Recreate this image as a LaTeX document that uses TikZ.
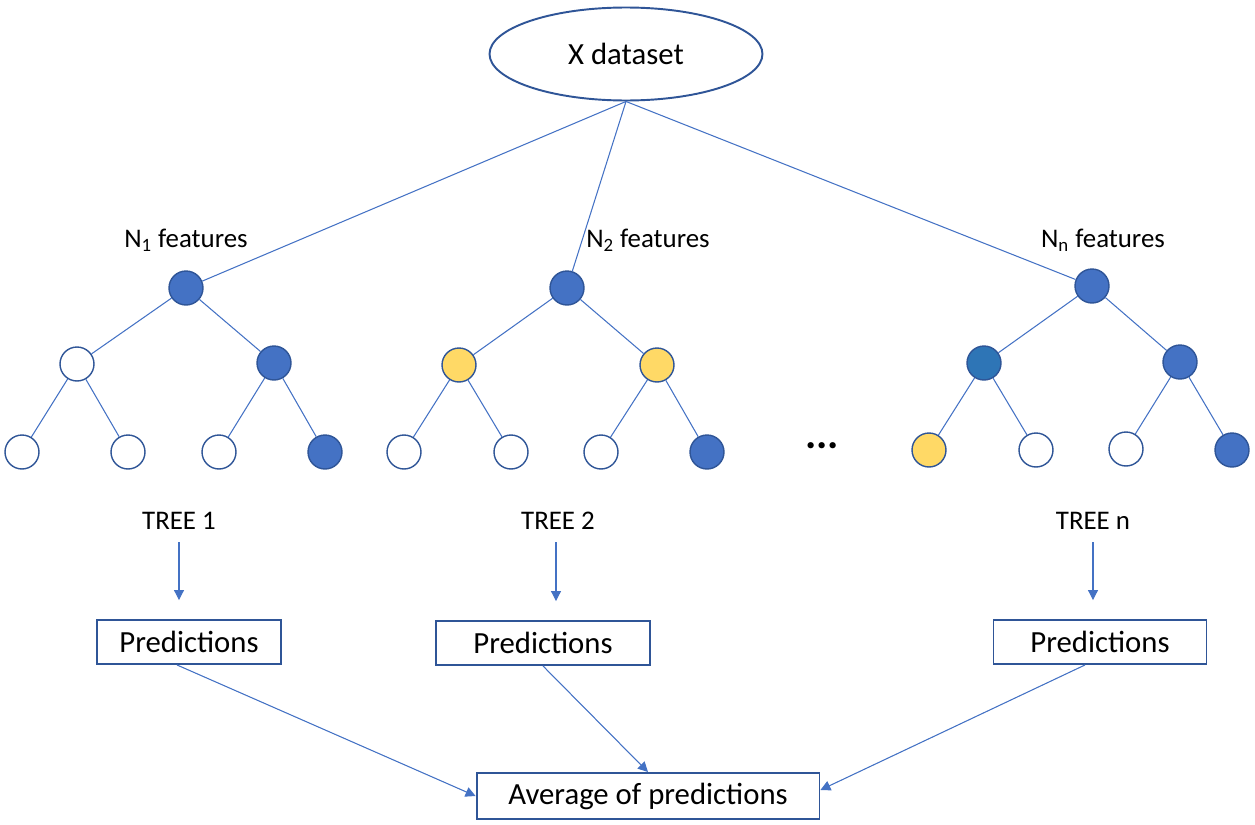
\documentclass[tikz,border=0pt]{standalone}
\usepackage{fontspec}
\setmainfont{Carlito}
\usetikzlibrary{arrows.meta, shapes.geometric}
\definecolor{nodeblue}{HTML}{4472C4}
\definecolor{darkblue}{HTML}{2F5597}
\definecolor{midblue}{HTML}{2E75B6}
\definecolor{nodeyellow}{HTML}{FFD966}

\begin{document}
\begin{tikzpicture}[
x=0.02cm, y=-0.02cm,
link/.style={draw=nodeblue, line width=0.6pt},
arrow/.style={-{Triangle[length=0.2cm, width=0.2cm]}, draw=nodeblue, fill=nodeblue, line width=0.6pt},
leaf/.style={circle, draw=darkblue, line width=0.8pt, minimum size=0.68cm, inner sep=0pt, fill=white},
blue/.style={leaf, fill=nodeblue},
yellow/.style={leaf, fill=nodeyellow},
box/.style={draw=darkblue, rectangle, line width=1.1pt, minimum height=0.88cm, inner sep=0pt, font=\fontsize{17.5}{20}\selectfont},
label/.style={inner sep=0pt, font=\fontsize{15.3}{18}\selectfont}
]
\useasboundingbox (0,0) rectangle (1255,825);

\node[ellipse, draw=darkblue, line width=1.1pt, minimum width=5.46cm, minimum height=1.86cm, inner sep=0pt, font=\fontsize{17.5}{20}\selectfont] (data) at (626,54) {X dataset};

% tree 1
\node[label] (f1) at (186,240) {N\textsubscript{1} features};
\node[blue] (t1r) at (186,288) {};
\node[leaf] (t1a) at (77,364) {};
\node[blue] (t1b) at (274,363) {};
\node[leaf] (t1aa) at (22,452) {};
\node[leaf] (t1ab) at (128,452) {};
\node[leaf] (t1ba) at (219,452) {};
\node[blue] (t1bb) at (325,452) {};

% tree 2
\node[label] (f2) at (648,240) {N\textsubscript{2} features};
\node[blue] (t2r) at (567,288) {};
\node[yellow] (t2a) at (459,365) {};
\node[yellow] (t2b) at (657,365) {};
\node[leaf] (t2aa) at (404,452) {};
\node[leaf] (t2ab) at (511,452) {};
\node[leaf] (t2ba) at (601,452) {};
\node[blue] (t2bb) at (707,452) {};

% tree n
\node[label] (fn) at (1103,240) {N\textsubscript{n} features};
\node[blue] (tnr) at (1092,286) {};
\node[leaf, fill=midblue] (tna) at (984,363) {};
\node[blue] (tnb) at (1180,362) {};
\node[yellow] (tnaa) at (929,450) {};
\node[leaf] (tnab) at (1036,450) {};
\node[leaf] (tnba) at (1126,449) {};
\node[blue] (tnbb) at (1232,450) {};

\node[inner sep=0pt, font=\fontsize{24}{26}\selectfont\bfseries] (dots) at (822,446) {...};

\draw[link] (data.south) -- (t1r);
\draw[link] (data.south) -- (t2r);
\draw[link] (data.south) -- (tnr);

\draw[link] (t1r) -- (t1a);
\draw[link] (t1r) -- (t1b);
\draw[link] (t1a) -- (t1aa);
\draw[link] (t1a) -- (t1ab);
\draw[link] (t1b) -- (t1ba);
\draw[link] (t1b) -- (t1bb);

\draw[link] (t2r) -- (t2a);
\draw[link] (t2r) -- (t2b);
\draw[link] (t2a) -- (t2aa);
\draw[link] (t2a) -- (t2ab);
\draw[link] (t2b) -- (t2ba);
\draw[link] (t2b) -- (t2bb);

\draw[link] (tnr) -- (tna);
\draw[link] (tnr) -- (tnb);
\draw[link] (tna) -- (tnaa);
\draw[link] (tna) -- (tnab);
\draw[link] (tnb) -- (tnba);
\draw[link] (tnb) -- (tnbb);

\node[label] (tree1) at (179,521) {TREE 1};
\node[label] (tree2) at (558,521) {TREE 2};
\node[label] (treen) at (1093,521) {TREE n};

\node[box, minimum width=3.68cm] (pred1) at (189,642) {Predictions};
\node[box, minimum width=4.28cm] (pred2) at (543,643) {Predictions};
\node[box, minimum width=4.26cm] (predn) at (1100,642) {Predictions};
\node[box, minimum width=6.86cm, minimum height=0.92cm] (avg) at (648,796) {Average of predictions};

\draw[arrow, shorten >=0.38cm] ([yshift=-0.42cm]tree1.center) -- (tree1 |- pred1.north);
\draw[arrow, shorten >=0.38cm] ([yshift=-0.42cm, xshift=-0.04cm]tree2.center) -- ([xshift=-0.04cm]tree2 |- pred2.north);
\draw[arrow, shorten >=0.38cm] ([yshift=-0.42cm]treen.center) -- (treen |- predn.north);

\draw[arrow] ([xshift=-0.24cm]pred1.south) -- (avg.west);
\draw[arrow] (pred2.south) -- (avg.north);
\draw[arrow] ([xshift=-0.3cm]predn.south) -- ([yshift=0.12cm]avg.east);

\end{tikzpicture}
\end{document}
